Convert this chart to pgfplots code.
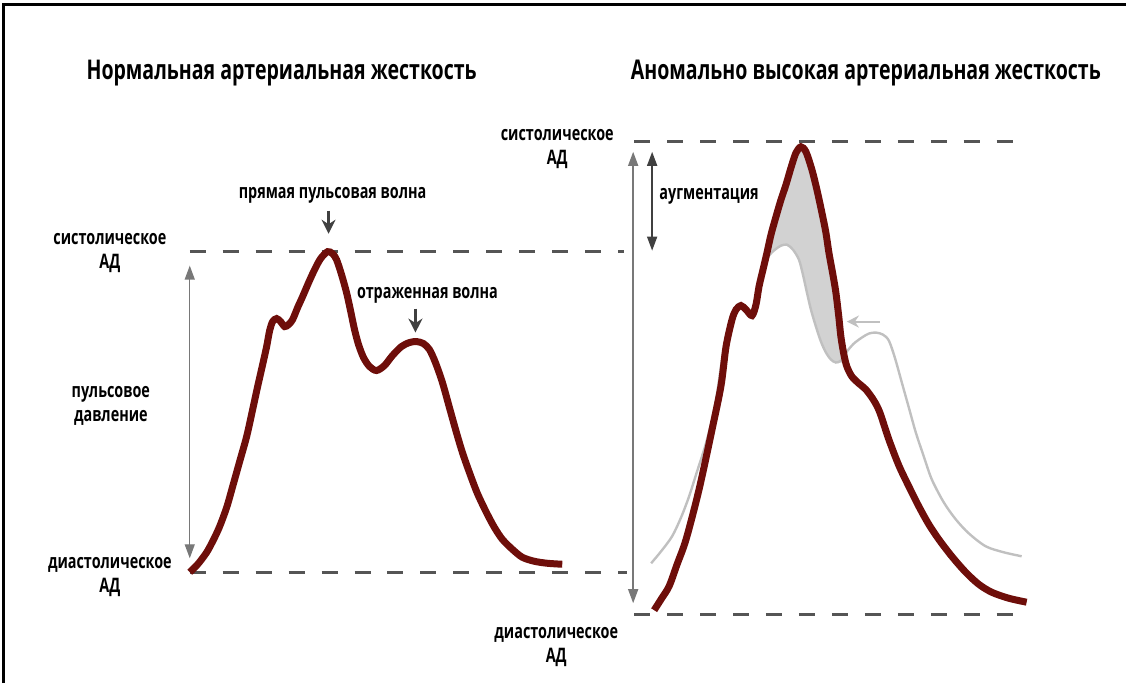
\documentclass[border=0pt]{standalone}
\usepackage{fontspec}
\setmainfont{Open Sans}[FakeStretch=0.72]
\usepackage{pgfplots}
\pgfplotsset{compat=1.18}
\usetikzlibrary{arrows.meta}
\definecolor{pulsered}{RGB}{110, 14, 10}
\definecolor{dashgray}{RGB}{85, 85, 85}
\definecolor{arrgray}{RGB}{120, 120, 120}
\definecolor{wavegray}{RGB}{192, 192, 192}
\definecolor{augfill}{RGB}{210, 210, 210}
\tikzset{
  lab/.style={font=\bfseries\fontsize{10}{12}\selectfont, align=center, inner sep=0pt},
  ttl/.style={font=\bfseries\fontsize{13.6}{16}\selectfont, inner sep=0pt},
}

% pixel grid of the picture, y down
\begin{document}
\begin{tikzpicture}
\begin{axis}[
    scale only axis,
    width=563.5pt, height=342pt,
    xmin=0, xmax=1127, ymin=0, ymax=684,
    y dir=reverse,
    axis lines=none,
    clip=false,
  ]
  \path (0,0) rectangle (1127,684);
  % frame
  \draw[line width=1.5pt] (4,684) -- (4,5) -- (1127,5);

  % dashed level lines
  \begin{scope}[dashgray, line width=1.5pt, dash pattern=on 8pt off 8.5pt]
    \draw (190,252) -- (625,252);
    \draw (190,573) -- (628,573);
    \draw (635,142) -- (1030,142);
    \draw (635,615) -- (1030,615);
  \end{scope}

  % ---- normal stiffness ----
  \addplot[pulsered, line width=3.5pt, smooth, tension=0.5] coordinates {
    (190,573) (198,565) (207,553) (214,540) (220,527) (227,508) (233,487)
    (240,462) (247,437) (253,410) (258,387) (263,365) (267,347) (270,331)
    (273,322) (277,319) (281,322) (285,327) (289,325) (293,320) (298,308)
    (303,297) (309,283) (315,270) (321,259) (328,252) (333,254) (337,260)
    (342,275) (347,293) (351,311) (355,330) (359,345) (364,358) (370,367)
    (377,371) (385,366) (393,356) (402,347) (410,343) (417,342) (424,344)
    (430,350) (436,363) (443,383) (450,408) (457,433) (463,453) (470,473)
    (478,494) (487,513) (495,528) (503,540) (513,550) (523,558) (535,562)
    (548,564) (563,565)
  };

  % ---- high stiffness ----
  \addplot[fill=augfill, draw=none, smooth, tension=0.5] coordinates {
    (764,262) (768,253) (772,235) (777,217) (782,200) (787,185) (792,168)
    (797,153) (802,147) (807,152) (813,170) (818,190) (823,213) (827,233)
    (830,253) (834,275) (837,293) (840,318) (842,337) (844,352) (846,362)
    (840,363) (837,363) (832,360) (827,353) (822,342) (817,327) (812,310)
    (808,293) (804,275) (800,260) (794,250) (788,245) (782,246) (776,250)
    (770,256)
  } -- cycle;

  \addplot[wavegray, line width=1.2pt, smooth, tension=0.5] coordinates {
    (652,564) (662,552) (673,537) (682,518) (690,497) (698,472) (706,447)
    (713,420) (718,394) (723,360) (729,330) (735,311) (740,304) (745,307)
    (751,314) (756,303) (760,285) (764,268) (770,256) (776,250) (782,246)
    (788,245) (794,250) (800,260) (804,275) (808,293) (812,310) (817,327)
    (822,342) (827,353) (832,360) (837,363) (842,361) (848,352) (855,344)
    (863,338) (870,334) (877,333) (884,335) (890,341) (896,358) (903,383)
    (910,408) (917,433) (925,457) (933,480) (945,503) (957,520) (970,534)
    (987,547) (1005,553) (1023,557)
  };

  \addplot[pulsered, line width=3.5pt, smooth, tension=0.5] coordinates {
    (655,611) (662,600) (670,587) (678,565) (687,540) (700,490) (713,430)
    (722,386) (727,347) (733,320) (737,310) (742,306) (747,310) (753,316)
    (757,305) (760,287) (764,270) (768,253) (772,235) (777,217) (782,200)
    (787,185) (792,168) (797,153) (802,147) (807,152) (813,170) (818,190)
    (823,213) (827,233) (830,253) (834,275) (837,293) (840,318) (842,337)
    (845,355) (848,367) (853,377) (860,384) (867,390) (875,401) (881,413)
    (890,440) (900,466) (910,487) (920,507) (930,525) (940,540) (953,557)
    (967,573) (980,585) (993,593) (1010,599) (1028,603)
  };

  % arrows
  \begin{scope}[arrgray, line width=0.7pt]
    \draw[{Triangle[length=7pt,width=5pt]}-{Triangle[length=7pt,width=5pt]}] (190,266) -- (190,559);
    \draw[{Triangle[length=7pt,width=5pt]}-{Triangle[length=7pt,width=5pt]}] (634,152) -- (634,604);
  \end{scope}
  \draw[black!75, line width=0.8pt, {Triangle[length=7pt,width=5pt]}-{Triangle[length=7pt,width=5pt]}] (653,152) -- (653,251);
  \draw[black!75, line width=1.1pt, -{Stealth[length=7pt,width=7pt]}] (329,211) -- (329,234);
  \draw[black!75, line width=1.1pt, -{Stealth[length=7pt,width=7pt]}] (416,309) -- (416,333);
  \draw[wavegray, line width=1pt, -{Stealth[length=6pt,width=6pt]}] (881,322) -- (848,322);

  % texts
  \node[ttl] at (282,73) {Нормальная артериальная жесткость};
  \node[ttl] at (867,73) {Аномально высокая артериальная жесткость};
  \node[lab] at (110,253) {систолическое\\АД};
  \node[lab] at (111,406) {пульсовое\\давление};
  \node[lab] at (110,578) {диастолическое\\АД};
  \node[lab] at (333,196) {прямая пульсовая волна};
  \node[lab] at (428,296) {отраженная волна};
  \node[lab] at (558,149) {систолическое\\АД};
  \node[lab] at (710,197) {аугментация};
  \node[lab] at (557,648) {диастолическое\\АД};
\end{axis}
\end{tikzpicture}
\end{document}
